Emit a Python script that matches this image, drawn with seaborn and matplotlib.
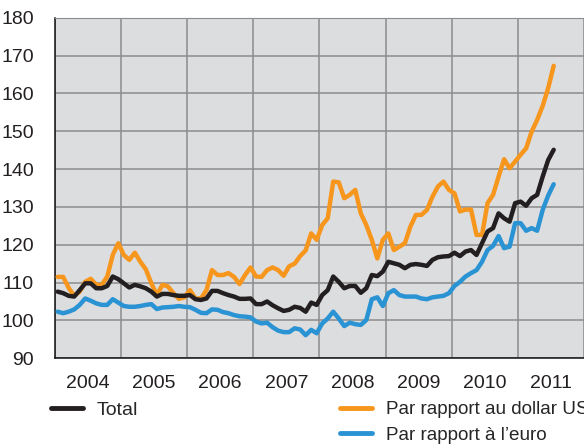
import numpy as np
import pandas as pd
import seaborn as sns
import matplotlib.pyplot as plt
from matplotlib.lines import Line2D

# Monthly index values, Jan 2004 - Jul 2011
total = [107.6, 107.2, 106.5, 106.3, 108.0, 109.8, 109.8, 108.5, 108.5, 109.1,
         111.6, 110.9, 109.8, 108.7, 109.4, 109.0, 108.5, 107.6, 106.3, 107.0,
         107.0, 106.7, 106.5, 106.5, 106.7, 105.6, 105.4, 105.8, 107.8, 107.8,
         107.2, 106.7, 106.3, 105.7, 105.7, 105.8, 104.3, 104.3, 105.0, 104.0,
         103.2, 102.5, 102.8, 103.6, 103.3, 102.3, 104.7, 104.1, 106.7, 108.0,
         111.6, 110.2, 108.5, 109.1, 109.1, 107.3, 108.5, 112.0, 111.7, 112.9,
         115.5, 115.1, 114.7, 113.8, 114.7, 114.9, 114.7, 114.4, 116.0, 116.7,
         116.9, 117.0, 117.9, 117.0, 118.2, 118.6, 117.3, 120.4, 123.5, 124.4,
         128.3, 127.0, 126.1, 131.0, 131.4, 130.3, 132.3, 133.2, 138.0, 142.4,
         145.1]
usd = [111.5, 111.5, 108.6, 106.5, 107.6, 110.2, 111.0, 109.4, 109.4, 111.6,
       117.3, 120.4, 117.3, 116.0, 117.9, 115.5, 113.5, 109.8, 106.7, 109.4,
       109.0, 107.2, 105.7, 106.1, 108.0, 105.8, 105.8, 108.0, 113.3, 112.0,
       112.0, 112.5, 111.5, 109.6, 112.0, 114.0, 111.6, 111.5, 113.3, 114.0,
       113.3, 111.8, 114.3, 115.0, 117.0, 118.5, 123.0, 121.3, 125.2, 127.0,
       136.7, 136.5, 132.3, 133.2, 134.5, 128.3, 125.2, 121.3, 116.4, 121.3,
       123.0, 118.6, 119.5, 120.4, 124.8, 127.9, 127.9, 129.2, 132.7, 135.4,
       136.7, 134.5, 133.6, 128.8, 129.3, 129.3, 122.6, 122.6, 131.0, 133.2,
       138.0, 142.6, 140.2, 142.0, 143.8, 145.5, 149.9, 153.0, 156.7, 161.4,
       167.3]
euro = [102.3, 101.9, 102.3, 102.9, 104.1, 105.8, 105.2, 104.5, 104.1, 104.1,
        105.6, 104.7, 103.8, 103.6, 103.6, 103.8, 104.1, 104.3, 103.0, 103.4,
        103.5, 103.6, 103.8, 103.6, 103.5, 102.8, 102.0, 101.9, 102.9, 102.8,
        102.2, 101.9, 101.4, 101.1, 101.0, 100.8, 99.7, 99.2, 99.4, 98.2,
        97.3, 96.9, 96.9, 97.9, 97.6, 96.1, 97.5, 96.6, 99.2, 100.5,
        102.3, 100.5, 98.5, 99.4, 99.0, 98.8, 100.1, 105.6, 106.1, 103.8,
        107.2, 108.0, 106.7, 106.3, 106.3, 106.3, 105.8, 105.6, 106.1, 106.3,
        106.5, 107.2, 109.1, 110.2, 111.6, 112.5, 113.3, 115.5, 118.6, 119.7,
        122.3, 119.1, 119.5, 125.7, 125.7, 123.7, 124.4, 123.7, 129.2, 133.0,
        136.0]
years = list(range(2004, 2012))
labels = ['Total', 'Par rapport au dollar US', 'Par rapport à l\u2019euro']
colors = {labels[0]: '#231f20', labels[1]: '#f7961d', labels[2]: '#2a93d4'}

# x position: middle of each month, in years
x = 2004 + (np.arange(len(total)) + 0.5) / 12
df = pd.DataFrame({'x': x, labels[0]: total, labels[1]: usd, labels[2]: euro})
df = df.melt(id_vars='x', var_name='serie', value_name='indice')

sns.set_style('white', {'axes.facecolor': '#dcdddf'})
plt.rcParams['font.family'] = ['Liberation Sans', 'DejaVu Sans']

fig, ax = plt.subplots(figsize=(5.84, 4.45), dpi=100)
fig.subplots_adjust(left=0.094, right=1.0, top=0.96, bottom=0.195)

sns.lineplot(data=df, x='x', y='indice', hue='serie',
             hue_order=[labels[1], labels[2], labels[0]],
             palette=colors, linewidth=3.2, legend=False, ax=ax, zorder=3)

ax.set_xlim(2004, 2012)
ax.set_ylim(90, 180)
ax.set_yticks(range(90, 181, 10))
ax.set_xticks(range(2004, 2013))
ax.set_xticklabels([])
ax.set_xticks([y + 0.5 for y in years], minor=True)
ax.set_xticklabels([str(y) for y in years], minor=True)
ax.set_xlabel('')
ax.set_ylabel('')

ax.grid(True, which='major', color='#8c8c8c', linewidth=1.1)
ax.set_axisbelow(True)
ax.tick_params(axis='both', which='major', direction='out', length=8, width=1,
               color='#333333', labelsize=14, labelcolor='#231f20')
ax.tick_params(axis='y', pad=7)
ax.tick_params(axis='x', which='minor', length=0, labelsize=14, pad=12,
               labelcolor='#231f20')
ax.spines['right'].set_visible(False)
ax.spines['top'].set_color('#8c8c8c')
ax.spines['left'].set_color('#111111')
ax.spines['bottom'].set_color('#111111')
ax.spines['left'].set_linewidth(1.1)
ax.spines['bottom'].set_linewidth(1.1)

def handle(lab):
    return Line2D([], [], color=colors[lab], linewidth=3.5)

fig.legend(handles=[handle(labels[0])], labels=[labels[0]], loc='upper left',
           bbox_to_anchor=(0.088, 0.099), frameon=False, fontsize=14,
           handlelength=1.6, handletextpad=0.75, borderpad=0, borderaxespad=0)
fig.legend(handles=[handle(labels[1]), handle(labels[2])], labels=labels[1:],
           loc='upper left', bbox_to_anchor=(0.583, 0.099), frameon=False,
           fontsize=13.6, handlelength=1.65, handletextpad=0.78, labelspacing=0.45,
           borderpad=0, borderaxespad=0)

fig.savefig('out.png', dpi=100)
